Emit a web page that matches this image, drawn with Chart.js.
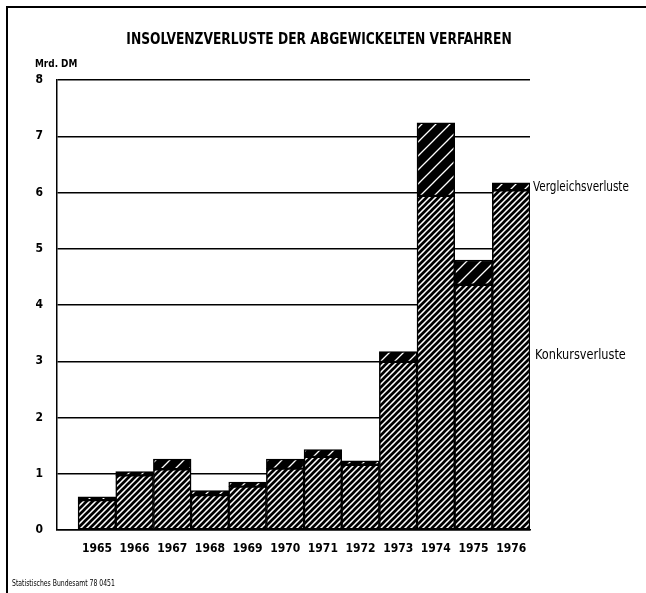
<!DOCTYPE html>
<html>
<head>
<meta charset="utf-8">
<script src="https://cdn.jsdelivr.net/npm/chart.js@4/dist/chart.umd.min.js"></script>
<style>
  html, body { margin: 0; padding: 0; background: #fff; }
  #wrap { width: 646px; height: 593px; }
</style>
</head>
<body>
<div id="wrap"><canvas id="insolvenz" width="646" height="593"></canvas></div>
<script>
// Jahre und Verluste in Mrd. DM
const jahre = [1965, 1966, 1967, 1968, 1969, 1970, 1971, 1972, 1973, 1974, 1975, 1976];
const konkursverluste = [0.53, 0.97, 1.08, 0.62, 0.77, 1.09, 1.30, 1.16, 2.99, 5.94, 4.36, 6.04];
const vergleichsverluste = [0.06, 0.07, 0.18, 0.08, 0.08, 0.17, 0.13, 0.07, 0.18, 1.30, 0.44, 0.13];
const yTicks = [0, 1, 2, 3, 4, 5, 6, 7, 8];

const FONT = "'DejaVu Sans Condensed', 'DejaVu Sans', sans-serif";

// Schraffur "/" als Canvas-Muster
function schraffur(size, lineW, fg, bg) {
    const c = document.createElement('canvas');
    c.width = size;
    c.height = size;
    const g = c.getContext('2d');
    g.fillStyle = bg;
    g.fillRect(0, 0, size, size);
    g.strokeStyle = fg;
    g.lineWidth = lineW;
    g.lineCap = 'square';
    g.beginPath();
    g.moveTo(0, size); g.lineTo(size, 0);
    g.moveTo(-1, 1); g.lineTo(1, -1);
    g.moveTo(size - 1, size + 1); g.lineTo(size + 1, size - 1);
    g.stroke();
    return g.createPattern(c, 'repeat');
}

// schmal gezogener Text (horizontal gestaucht)
function schmalText(c, text, x, y, font, sx, align) {
    c.save();
    c.font = font;
    c.textAlign = align || 'left';
    c.textBaseline = 'middle';
    c.translate(x, y);
    c.scale(sx, 1);
    c.fillText(text, 0, 0);
    c.restore();
}

const ctx = document.getElementById('insolvenz').getContext('2d');
const musterKonkurs = schraffur(6, 2.7, '#000', '#fff');
const musterVergleich = schraffur(14, 1.3, '#fff', '#000');

// Rahmen, Überschrift und Beschriftungen
const beschriftung = {
    id: 'beschriftung',
    beforeDraw(chart) {
        const c = chart.ctx;
        c.save();
        c.fillStyle = '#fff';
        c.fillRect(0, 0, chart.width, chart.height);
        c.strokeStyle = '#000';
        c.lineWidth = 2;
        c.beginPath();
        c.moveTo(7, chart.height);
        c.lineTo(7, 7);
        c.lineTo(chart.width, 7);
        c.stroke();
        c.restore();
    },
    afterDraw(chart) {
        const c = chart.ctx;
        const y = chart.scales.y;
        c.save();
        c.fillStyle = '#000';
        schmalText(c, 'INSOLVENZVERLUSTE DER ABGEWICKELTEN VERFAHREN', 319, 40, 'bold 15px ' + FONT, 0.91, 'center');
        schmalText(c, 'Mrd. DM', 35, 64, 'bold 11px ' + FONT, 0.9);
        schmalText(c, 'Vergleichsverluste', 533, y.getPixelForValue(6.1), '14px ' + FONT, 0.83);
        schmalText(c, 'Konkursverluste', 535, y.getPixelForValue(3.1), '14px ' + FONT, 0.9);
        schmalText(c, 'Statistisches Bundesamt 78 0451', 12, 584, '8px ' + FONT, 0.85);
        c.restore();
    }
};

new Chart(ctx, {
    type: 'bar',
    data: {
        datasets: [
            {
                label: 'Konkursverluste',
                data: jahre.map((j, i) => ({ x: j, y: konkursverluste[i] })),
                backgroundColor: musterKonkurs,
                borderColor: '#000',
                borderWidth: 1.5,
                borderSkipped: false,
                categoryPercentage: 1,
                barPercentage: 1
            },
            {
                label: 'Vergleichsverluste',
                data: jahre.map((j, i) => ({ x: j, y: vergleichsverluste[i] })),
                backgroundColor: musterVergleich,
                borderColor: '#000',
                borderWidth: 1.5,
                borderSkipped: false,
                categoryPercentage: 1,
                barPercentage: 1
            }
        ]
    },
    options: {
        responsive: false,
        animation: false,
        layout: { padding: { left: 0, right: 116, top: 80, bottom: 0 } },
        plugins: {
            legend: { display: false },
            tooltip: { enabled: false },
            title: { display: false }
        },
        scales: {
            x: {
                type: 'linear',
                stacked: true,
                offset: false,
                min: 1963.94,
                max: 1976.5,
                afterBuildTicks(scale) {
                    scale.ticks = jahre.map(v => ({ value: v }));
                },
                afterFit(scale) { scale.height = 63; },
                grid: { display: false, drawTicks: false },
                border: { display: true, color: '#000', width: 1.5 },
                ticks: {
                    color: '#000',
                    padding: 12,
                    autoSkip: false,
                    maxRotation: 0,
                    font: { family: FONT, size: 12, weight: 'bold' },
                    callback: v => String(v)
                }
            },
            y: {
                stacked: true,
                min: 0,
                max: 8,
                afterBuildTicks(scale) {
                    scale.ticks = yTicks.map(v => ({ value: v }));
                },
                afterFit(scale) { scale.width = 57; },
                grid: { color: '#000', lineWidth: 1.5, drawTicks: false },
                border: { display: true, color: '#000', width: 1.5 },
                ticks: {
                    color: '#000',
                    padding: 14,
                    font: { family: FONT, size: 12, weight: 'bold' },
                    callback: v => String(v)
                }
            }
        }
    },
    plugins: [beschriftung]
});
</script>
</body>
</html>
